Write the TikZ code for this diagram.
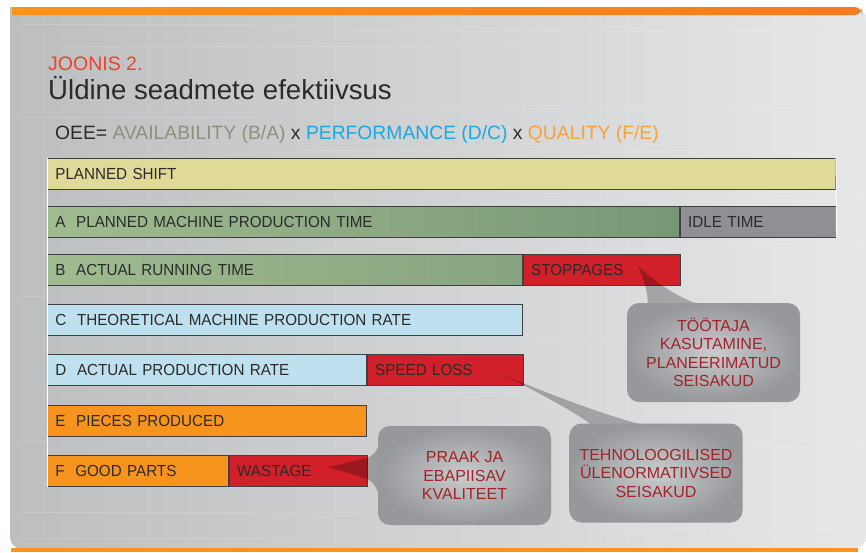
\documentclass[tikz,border=0pt]{standalone}
\usepackage{fontspec}
\setmainfont{Liberation Sans}
\newfontfamily\barfont[FakeStretch=0.95]{Liberation Sans}
\usetikzlibrary{positioning, calc}
\pgfdeclarelayer{front}
\pgfsetlayers{main,front}
\definecolor{metaldark}{HTML}{BDBEC0}
\definecolor{metallight}{HTML}{E6E7E8}
\definecolor{bandorange}{HTML}{F7941D}
\definecolor{bandorangeb}{HTML}{F47B20}
\definecolor{joonisred}{HTML}{E8442F}
\definecolor{titlegray}{HTML}{2B2B2B}
\definecolor{availgray}{HTML}{8D907A}
\definecolor{perfcyan}{HTML}{1BA8E0}
\definecolor{qualorange}{HTML}{F6A23E}
\definecolor{shiftyellow}{HTML}{E0DA98}
\definecolor{greenlight}{HTML}{A0BB90}
\definecolor{greendark}{HTML}{779776}
\definecolor{greenmid}{HTML}{86A47F}
\definecolor{idlegray}{HTML}{8F9094}
\definecolor{lossred}{HTML}{D2202A}
\definecolor{rateblue}{HTML}{BEE0EF}
\definecolor{pieceorange}{HTML}{F7941E}
\definecolor{notelight}{HTML}{CACBCD}
\definecolor{notedark}{HTML}{97989B}
\definecolor{notered}{HTML}{A3232B}
\tikzset{
  bar/.style={anchor=north west, draw=black!75, line width=0.8pt, minimum height=31pt,
    inner xsep=8pt, inner ysep=0pt, align=left, text=titlegray,
    font=\barfont\fontsize{16}{19}\selectfont},
  greenbar/.style={bar, left color=greenlight, right color=#1},
  lossbar/.style={bar, fill=lossred},
  callout/.style={rounded corners=12pt, minimum width=173pt, minimum height=99pt,
    inner color=notelight, outer color=notedark, align=center, text=notered,
    font=\fontsize{16}{18.5}\selectfont},
  pointer/.style={fill=black, opacity=0.25},
}

\begin{document}
\begin{tikzpicture}[x=1pt, y=-1pt]
  \useasboundingbox (0,0) rectangle (866,552);
  \fill[white] (0,0) rectangle (866,552);
  % brushed metal panel
  \shade[left color=metaldark, right color=metallight]
    (10,7) {[rounded corners=12pt] -- (866,7) -- (866,549) -- (10,549)} -- cycle;
  \foreach \sy/\sa/\sb in {24/20/300, 31/350/820, 46/60/520, 108/400/850, 117/20/260,
      150/300/700, 196/540/860, 244/700/860, 296/20/45, 342/530/620, 392/380/560,
      441/20/45, 446/560/860, 512/20/360, 530/600/850, 538/20/300}{
    \draw[white, opacity=0.15, line width=1pt] (\sa,\sy) -- (\sb,\sy);
  }
  \shade[left color=bandorange, right color=bandorangeb]
    (12,15) -- (12,7) {[rounded corners=8pt] -- (862,7) -- (862,15)} -- cycle;
  \fill[bandorange] (11,548) rectangle (858,552);

  % headings
  \node[anchor=base west, inner sep=0pt, text=joonisred,
    font=\fontsize{19.5}{22}\selectfont] (fignum) at (48,70) {JOONIS 2.};
  \node[anchor=base west, inner sep=0pt, text=titlegray,
    font=\fontsize{27.6}{30}\selectfont] (title) at (48,99) {Üldine seadmete efektiivsus};
  \node[anchor=base west, inner sep=0pt, text=titlegray,
    font=\fontsize{19.3}{22}\selectfont] (oee) at (55,139)
    {OEE= \textcolor{availgray}{AVAILABILITY (B/A)} x \textcolor{perfcyan}{PERFORMANCE (D/C)}
     x \textcolor{qualorange}{QUALITY (F/E)}};

  % bars
  \node[bar, fill=shiftyellow, text width=772pt] (shift) at (47,158) {PLANNED SHIFT};
  \node[greenbar=greendark, text width=616pt] (avail) at (47,206) {A\ \ PLANNED MACHINE PRODUCTION TIME};
  \node[bar, fill=idlegray, text width=140pt, right=0pt of avail] (idle) {IDLE TIME};
  \node[greenbar=greenmid, text width=459pt] (running) at (47,254) {B\ \ ACTUAL RUNNING TIME};
  \node[lossbar, text width=141pt, right=0pt of running] (stop) {STOPPAGES};
  \node[bar, fill=rateblue, text width=459pt] (theory) at (47,304) {C\ \ THEORETICAL MACHINE PRODUCTION RATE};
  \node[bar, fill=rateblue, text width=303pt] (actual) at (47,354) {D\ \ ACTUAL PRODUCTION RATE};
  \node[lossbar, text width=140pt, right=0pt of actual] (speed) {SPEED LOSS};
  \node[bar, fill=pieceorange, text width=303pt] (pieces) at (47,405) {E\ \ PIECES PRODUCED};
  \node[bar, fill=pieceorange, text width=165pt] (good) at (47,455) {F\ \ GOOD PARTS};
  \node[lossbar, text width=122pt, right=0pt of good] (waste) {WASTAGE};
  \draw[white, line width=1pt] (shift.north west) -- (good.south west);
  \draw[white, line width=1pt] (shift.north east) -- (idle.south east);

  % callouts
  \begin{pgfonlayer}{front}
    \node[callout] (stopnote) at (713.5,352.5) {TÖÖTAJA\\KASUTAMINE,\\PLANEERIMATUD\\SEISAKUD};
    \node[callout] (speednote) at (656,473) {TEHNOLOOGILISED\\ÜLENORMATIIVSED\\SEISAKUD};
    \node[callout] (wastenote) at (464.5,475.5) {PRAAK JA\\EBAPIISAV\\KVALITEET};
  \end{pgfonlayer}
  \coordinate (stoptip) at (638,266);
  \coordinate (speedtip) at (497,372);
  \coordinate (wastetip) at (328,467);

  \fill[pointer] ($(stopnote.north west)+(21,2)$) .. controls +(0,-14) and +(6,14) .. (stoptip)
    .. controls +(22,20) and +(-18,0) .. ($(stopnote.north west)+(80,2)$) -- cycle;
  \fill[pointer] ($(speednote.north west)+(22,2)$) .. controls +(-3,-6) and +(30,14) .. (speedtip)
    .. controls +(50,22) and +(-20,-1) .. ($(speednote.north west)+(80,2)$) -- cycle;
  \fill[pointer] ($(wastenote.west)+(2,-36)$) .. controls +(-2,12) and +(8,-3) .. ($(wastenote.west)+(-12,-17)$)
    -- (wastetip) -- ($(wastenote.west)+(-12,3)$) .. controls +(8,3) and +(-2,-12) .. ($(wastenote.west)+(2,25)$) -- cycle;
\end{tikzpicture}
\end{document}
